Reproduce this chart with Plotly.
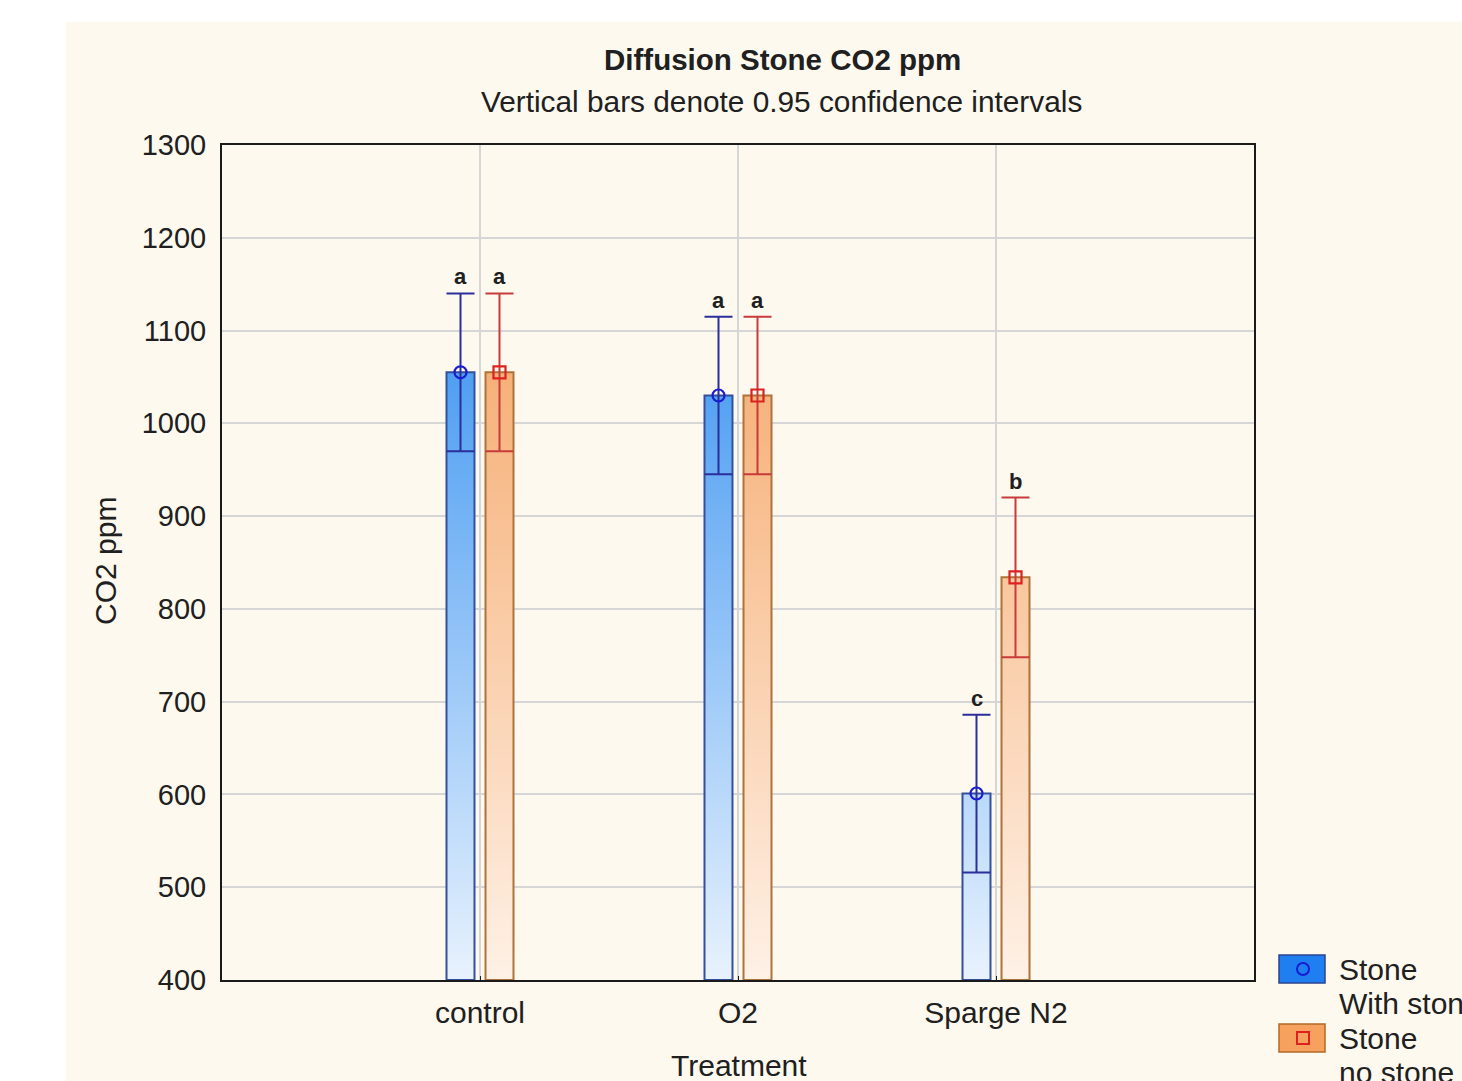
import plotly.graph_objects as go

categories = ["control", "O2", "Sparge N2"]
series_names = ["Stone<br>With stone", "Stone<br>no stone"]
with_stone_mean = [1055, 1030, 601]
with_stone_ci = [85, 85, 85]
no_stone_mean = [1055, 1030, 834]
no_stone_ci = [85, 85, 86]
letters_with = ["a", "a", "c"]
letters_no = ["a", "a", "b"]
y_ticks = [400, 500, 600, 700, 800, 900, 1000, 1100, 1200, 1300]

FONT = "Liberation Sans, Arial, sans-serif"
TXT = "#202020"
CREAM = "#FDF9EE"

# plot area in pixels
W, H = 1462, 1081
L, R, T, B = 222, 1254, 145, 980
def px(xp):
    return (xp - L) / (R - L)
def py(yp):
    return (B - yp) / (B - T)

y_min, y_max = 400, 1300
offset = 0.0756
bar_w = 0.1085

series = [
    dict(mean=with_stone_mean, ci=with_stone_ci, letters=letters_with, off=-offset,
         outline="#34509c", err="#2b2f9c", mk="#1b1bd0", symbol="circle-open",
         grad=[[0, "#E8F2FD"], [1, "#4C9DF2"]]),
    dict(mean=no_stone_mean, ci=no_stone_ci, letters=letters_no, off=offset,
         outline="#ad733a", err="#c93a3a", mk="#dd2020", symbol="square-open",
         grad=[[0, "#FEF1E6"], [1, "#F6AF76"]]),
]

fig = go.Figure()

for s in series:
    for i, v in enumerate(s["mean"]):
        c = i + s["off"]
        x0, x1 = c - bar_w / 2, c + bar_w / 2
        fig.add_trace(go.Scatter(
            x=[x0, x0, x1, x1, x0], y=[y_min, v, v, y_min, y_min],
            mode="lines", fill="toself",
            fillgradient=dict(type="vertical", colorscale=s["grad"], start=y_min, stop=1070),
            line=dict(color=s["outline"], width=2),
            hoverinfo="skip", showlegend=False))
    xs = [i + s["off"] for i in range(len(categories))]
    fig.add_trace(go.Scatter(
        x=xs, y=s["mean"], mode="markers",
        marker=dict(symbol=s["symbol"], size=12, color=s["mk"], line=dict(width=2.2, color=s["mk"])),
        error_y=dict(type="data", array=s["ci"], visible=True, color=s["err"], thickness=2, width=14),
        showlegend=False))
    for i, (v, e, t) in enumerate(zip(s["mean"], s["ci"], s["letters"])):
        fig.add_annotation(x=i + s["off"], y=v + e, text="<b>" + t + "</b>", showarrow=False,
                           yanchor="bottom", yshift=2, font=dict(size=22, color=TXT, family=FONT))

shapes = [
    dict(type="rect", xref="paper", yref="paper", x0=px(66), x1=px(1470), y0=py(1090), y1=py(22),
         fillcolor=CREAM, line=dict(width=0), layer="below"),
    # legend swatches
    dict(type="rect", xref="paper", yref="paper", x0=px(1279), x1=px(1325), y0=py(983), y1=py(955),
         fillcolor="#1f7ff0", line=dict(color="#2d4390", width=1.5)),
    dict(type="circle", xref="paper", yref="paper", x0=px(1297), x1=px(1309), y0=py(975), y1=py(963),
         fillcolor="rgba(0,0,0,0)", line=dict(color="#1b1bd0", width=2)),
    dict(type="rect", xref="paper", yref="paper", x0=px(1279), x1=px(1325), y0=py(1052), y1=py(1024),
         fillcolor="#F6A25E", line=dict(color="#b06a2a", width=1.5)),
    dict(type="rect", xref="paper", yref="paper", x0=px(1297), x1=px(1309), y0=py(1044), y1=py(1032),
         fillcolor="rgba(0,0,0,0)", line=dict(color="#dd2020", width=2)),
]

annotations = [
    dict(text="<b>Diffusion Stone CO2 ppm</b>", x=px(782), y=py(60), font=dict(size=29.5)),
    dict(text="Vertical bars denote 0.95 confidence intervals", x=px(781), y=py(102), font=dict(size=29.8)),
    dict(text="CO2 ppm", x=px(105), y=py(561), textangle=-90, font=dict(size=30)),
    dict(text="Treatment", x=px(739), y=py(1065), font=dict(size=30)),
    dict(text=series_names[0].split("<br>")[0], x=px(1337), y=py(969), xanchor="left", font=dict(size=30)),
    dict(text=series_names[0].split("<br>")[1], x=px(1337), y=py(1003), xanchor="left", font=dict(size=30)),
    dict(text=series_names[1].split("<br>")[0], x=px(1337), y=py(1038), xanchor="left", font=dict(size=30)),
    dict(text=series_names[1].split("<br>")[1], x=px(1337), y=py(1072), xanchor="left", font=dict(size=30)),
]
for a in annotations:
    a.update(xref="paper", yref="paper", showarrow=False)
    a.setdefault("xanchor", "center")
    a["yanchor"] = "middle"
    a["font"].update(family=FONT, color=TXT)
    fig.add_annotation(**a)

fig.update_layout(
    width=W, height=H,
    margin=dict(l=L, r=W - R, t=T, b=H - B, autoexpand=False),
    paper_bgcolor="white", plot_bgcolor="white",
    shapes=shapes,
    font=dict(family=FONT, color=TXT, size=29),
    showlegend=False,
)
fig.update_xaxes(range=[-1, 3], tickvals=list(range(len(categories))), ticktext=categories,
                 showgrid=True, gridcolor="#d6d6d6", gridwidth=1.5,
                 showline=True, linecolor="#1a1a1a", linewidth=2, mirror=True,
                 ticks="inside", ticklen=4, tickcolor="#1a1a1a", zeroline=False,
                 tickfont=dict(size=30), ticklabelstandoff=5)
fig.update_yaxes(range=[y_min, y_max], tickvals=y_ticks,
                 showgrid=True, gridcolor="#d6d6d6", gridwidth=1.5,
                 showline=True, linecolor="#1a1a1a", linewidth=2, mirror=True,
                 ticks="", zeroline=False, tickfont=dict(size=29), ticklabelstandoff=8)

fig.write_html("out.html", config={"displayModeBar": False},
               post_script="document.body.style.margin='0';document.body.style.overflow='hidden';")
